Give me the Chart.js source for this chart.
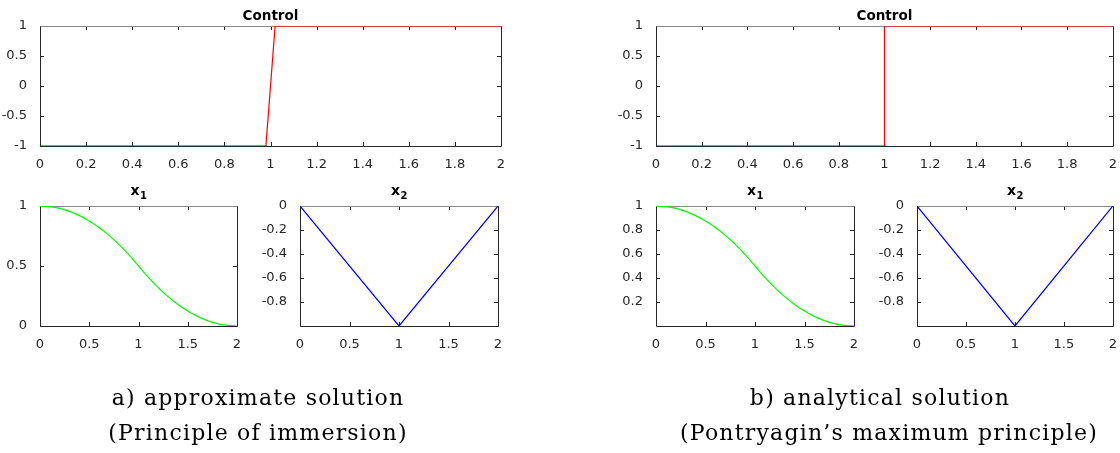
<!DOCTYPE html>
<html><head><meta charset="utf-8">
<script src="https://cdn.jsdelivr.net/npm/chart.js@4"></script>
<style>
body{margin:0;width:1120px;height:453px;background:#fff;position:relative;overflow:hidden}
canvas{position:absolute;left:0;top:0}
.cap{position:absolute;font-family:'DejaVu Serif',serif;font-size:22px;color:#000;text-align:center;line-height:35px;white-space:nowrap;letter-spacing:1.2px}
</style></head><body>
<canvas id="c1" width="1120" height="453"></canvas>
<canvas id="c2" width="1120" height="453"></canvas>
<canvas id="c3" width="1120" height="453"></canvas>
<canvas id="c4" width="1120" height="453"></canvas>
<canvas id="c5" width="1120" height="453"></canvas>
<canvas id="c6" width="1120" height="453"></canvas>
<div class="cap" style="left:58px;width:400px;top:380px">a) approximate solution<br>(Principle of immersion)</div>
<div class="cap" style="left:680px;width:400px;top:380px">b) analytical solution<br>(Pontryagin’s maximum principle)</div>
<script>
// ---- data ----
const controlTimeApprox = [0, 0.98, 1.02, 2];
const controlApprox = [-1, -1, 1, 1];
const controlTimeExact = [0, 1, 1, 2];
const controlExact = [-1, -1, 1, 1];
const stateTime = [0,0.1,0.2,0.3,0.4,0.5,0.6,0.7,0.8,0.9,1.0,1.1,1.2,1.3,1.4,1.5,1.6,1.7,1.8,1.9,2.0];
const x1Values = [1,0.995,0.98,0.955,0.92,0.875,0.82,0.755,0.68,0.595,0.5,0.405,0.32,0.245,0.18,0.125,0.08,0.045,0.02,0.005,0];
const x2Time = [0, 1, 2];
const x2Values = [0, -1, 0];
// tick labels
const controlXTicks = [0,0.2,0.4,0.6,0.8,1,1.2,1.4,1.6,1.8,2];
const controlYTicks = [-1,-0.5,0,0.5,1];
const stateXTicks = [0,0.5,1,1.5,2];
const x1YTicksA = [0,0.5,1];
const x1YTicksB = [0.2,0.4,0.6,0.8,1];
const x2YTicks = [-0.8,-0.6,-0.4,-0.2,0];

const AXIS = '#262626';
const YW = 40, XH = 25;
const TICKFONT = {family: 'DejaVu Sans', size: 13};

const framePlugin = {
  id: 'frame',
  beforeDatasetsDraw(chart) {
    const {ctx, chartArea: a, scales} = chart;
    ctx.save();
    ctx.lineWidth = 1;
    ctx.strokeStyle = AXIS;
    ctx.beginPath();
    scales.x.ticks.forEach(t => {
      const px = Math.round(scales.x.getPixelForValue(t.value)) + 0.5;
      ctx.moveTo(px, a.bottom); ctx.lineTo(px, a.bottom - 4);
      ctx.moveTo(px, a.top); ctx.lineTo(px, a.top + 4);
    });
    scales.y.ticks.forEach(t => {
      const py = Math.round(scales.y.getPixelForValue(t.value)) + 0.5;
      ctx.moveTo(a.left, py); ctx.lineTo(a.left + 4, py);
      ctx.moveTo(a.right, py); ctx.lineTo(a.right - 4, py);
    });
    ctx.stroke();
    const L = Math.round(a.left) + 0.5, R = Math.round(a.right) + 0.5;
    const T = Math.round(a.top) + 0.5, B = Math.round(a.bottom) + 0.5;
    ctx.beginPath();
    ctx.moveTo(L, T); ctx.lineTo(L, B); ctx.lineTo(R, B); ctx.lineTo(R, T);
    ctx.stroke();
    ctx.strokeStyle = '#8a8a8a';
    ctx.beginPath(); ctx.moveTo(L, T); ctx.lineTo(R, T); ctx.stroke();
    ctx.restore();
  },
  afterDraw(chart) {
    const o = chart.options.plugins.frame;
    const {ctx, chartArea: a} = chart;
    const cx = (a.left + a.right) / 2;
    ctx.save();
    ctx.fillStyle = '#000';
    ctx.textBaseline = 'alphabetic';
    if (o.sub) {
      ctx.font = 'bold 14px "DejaVu Sans"';
      const w1 = ctx.measureText(o.title).width;
      ctx.font = 'bold 10px "DejaVu Sans"';
      const w2 = ctx.measureText(o.sub).width;
      const x0 = cx - (w1 + w2) / 2;
      ctx.font = 'bold 14px "DejaVu Sans"';
      ctx.textAlign = 'left';
      ctx.fillText(o.title, x0, a.top - 11);
      ctx.font = 'bold 10px "DejaVu Sans"';
      ctx.fillText(o.sub, x0 + w1 + 0.5, a.top - 7);
    } else {
      ctx.font = 'bold 13.5px "DejaVu Sans"';
      ctx.textAlign = 'center';
      ctx.fillText(o.title, cx, a.top - 6);
    }
    ctx.restore();
  }
};

function makeChart(id, area, xs, ys, color, xTicks, yTicks, xr, yr, title, sub, smooth) {
  const pts = xs.map((x, i) => ({x: x, y: ys[i]}));
  new Chart(document.getElementById(id), {
    type: 'line',
    data: {datasets: [{data: pts, borderColor: color, borderWidth: 1.2, pointRadius: 0,
      fill: false, cubicInterpolationMode: smooth ? 'monotone' : 'default', tension: 0}]},
    options: {
      responsive: false, animation: false, events: [],
      layout: {padding: {left: area.l - YW, top: area.t, right: 1120 - area.r, bottom: 453 - area.b - XH}},
      plugins: {legend: {display: false}, tooltip: {enabled: false}, title: {display: false},
        frame: {title: title, sub: sub}},
      scales: {
        x: {type: 'linear', min: xr[0], max: xr[1],
          afterBuildTicks: s => { s.ticks = xTicks.map(v => ({value: v})); },
          afterFit: s => { s.height = XH; },
          grid: {display: false}, border: {display: false},
          ticks: {autoSkip: false, maxRotation: 0, padding: 3, color: AXIS,
            font: TICKFONT, callback: v => String(v)}},
        y: {type: 'linear', min: yr[0], max: yr[1],
          afterBuildTicks: s => { s.ticks = yTicks.map(v => ({value: v})); },
          afterFit: s => { s.width = YW; },
          grid: {display: false}, border: {display: false},
          ticks: {autoSkip: false, padding: 5, color: AXIS,
            font: TICKFONT, callback: v => String(v)}}
      }
    },
    plugins: [framePlugin]
  });
}

makeChart('c1', {l: 40, t: 26, r: 501, b: 146}, controlTimeApprox, controlApprox, '#ff0000',
  controlXTicks, controlYTicks, [0, 2], [-1, 1], 'Control', null, false);
makeChart('c2', {l: 40, t: 206, r: 237, b: 326}, stateTime, x1Values, '#00ff00',
  stateXTicks, x1YTicksA, [0, 2], [0, 1], 'x', '1', true);
makeChart('c3', {l: 300, t: 206, r: 498, b: 326}, x2Time, x2Values, '#0000ff',
  stateXTicks, x2YTicks, [0, 2], [-1, 0], 'x', '2', false);
makeChart('c4', {l: 656, t: 26, r: 1116, b: 146}, controlTimeExact, controlExact, '#ff0000',
  controlXTicks, controlYTicks, [0, 2], [-1, 1], 'Control', null, false);
makeChart('c5', {l: 656, t: 206, r: 854, b: 326}, stateTime, x1Values, '#00ff00',
  stateXTicks, x1YTicksB, [0, 2], [0, 1], 'x', '1', true);
makeChart('c6', {l: 917, t: 206, r: 1115, b: 326}, x2Time, x2Values, '#0000ff',
  stateXTicks, x2YTicks, [0, 2], [-1, 0], 'x', '2', false);
</script>
</body></html>
